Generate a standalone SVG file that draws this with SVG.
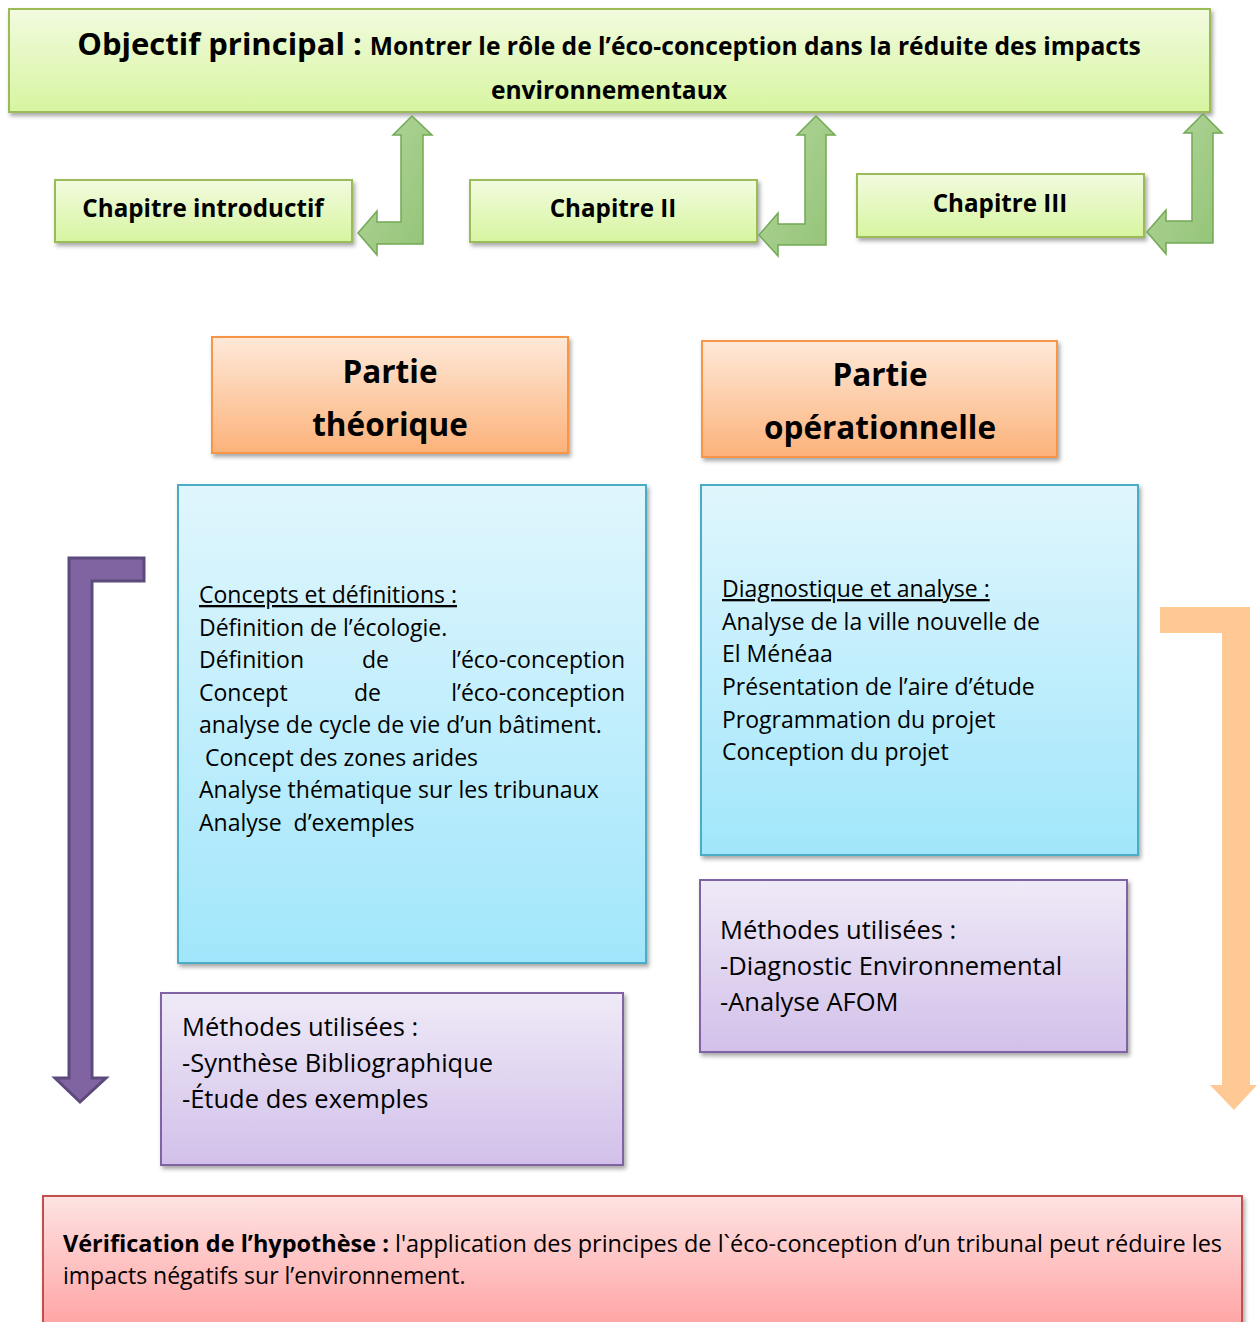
<svg xmlns="http://www.w3.org/2000/svg" width="1257" height="1322" viewBox="0 0 1257 1322">
<defs>
<linearGradient id="gGreen" x1="0" y1="0" x2="0" y2="1"><stop offset="0" stop-color="#f2fbdf"/><stop offset="1" stop-color="#d7f5a0"/></linearGradient>
<linearGradient id="gOrange" x1="0" y1="0" x2="0" y2="1"><stop offset="0" stop-color="#fee9d9"/><stop offset="1" stop-color="#fcb27a"/></linearGradient>
<linearGradient id="gCyan" x1="0" y1="0" x2="0" y2="1"><stop offset="0" stop-color="#e0f6fd"/><stop offset="1" stop-color="#a1e6fb"/></linearGradient>
<linearGradient id="gPurple" x1="0" y1="0" x2="0" y2="1"><stop offset="0" stop-color="#efeaf7"/><stop offset="1" stop-color="#d2c0ea"/></linearGradient>
<linearGradient id="gRed" x1="0" y1="0" x2="0" y2="1"><stop offset="0" stop-color="#fee3e3"/><stop offset="1" stop-color="#ffa1a1"/></linearGradient>
<linearGradient id="gArrow" x1="0" y1="0" x2="1" y2="1"><stop offset="0" stop-color="#b3d59c"/><stop offset="1" stop-color="#93c376"/></linearGradient>
<filter id="sh" x="-5%" y="-5%" width="110%" height="120%"><feDropShadow dx="2" dy="3" stdDeviation="2" flood-color="#000" flood-opacity="0.35"/></filter>
</defs>
<style>
text{font-family:"Open Sans","Noto Sans","Liberation Sans",sans-serif;fill:#000}
.b{font-weight:bold}
.green{fill:url(#gGreen);stroke:#9bbb59;stroke-width:2}
.orange{fill:url(#gOrange);stroke:#f79646;stroke-width:2}
.cyan{fill:url(#gCyan);stroke:#4bacc6;stroke-width:2}
.purple{fill:url(#gPurple);stroke:#8064a2;stroke-width:2}
.red{fill:url(#gRed);stroke:#c0504d;stroke-width:2}
.chap{font-size:24.2px;font-weight:bold;text-anchor:middle}
.partie{font-size:31.5px;font-weight:bold;text-anchor:middle}
.body{font-size:23px}
.meth{font-size:25.5px}
.garrow{fill:url(#gArrow);stroke:#71a954;stroke-width:1.5}
</style>

<g id="objectif">
<rect class="green" x="9" y="9" width="1201" height="103" filter="url(#sh)"/>
<text x="609" y="55" text-anchor="middle" class="b"><tspan font-size="31px">Objectif principal : </tspan><tspan font-size="24.6px">Montrer le rôle de l’éco-conception dans la réduite des impacts</tspan></text>
<text x="609" y="99" text-anchor="middle" class="b" font-size="24.6px">environnementaux</text>
</g>

<g id="chap-intro">
<rect class="green" x="55" y="180" width="297" height="62" filter="url(#sh)"/>
<text class="chap" x="203" y="217">Chapitre introductif</text>
</g>
<g id="chap-2">
<rect class="green" x="470" y="180" width="287" height="62" filter="url(#sh)"/>
<text class="chap" x="613" y="217">Chapitre II</text>
</g>
<g id="chap-3">
<rect class="green" x="857" y="174" width="287" height="63" filter="url(#sh)"/>
<text class="chap" x="1000" y="212">Chapitre III</text>
</g>

<g id="partie-theorique">
<rect class="orange" x="212" y="337" width="356" height="116" filter="url(#sh)"/>
<text class="partie" x="390" y="383">Partie</text>
<text class="partie" x="390" y="436">théorique</text>
</g>
<g id="partie-operationnelle">
<rect class="orange" x="702" y="341" width="355" height="116" filter="url(#sh)"/>
<text class="partie" x="880" y="386">Partie</text>
<text class="partie" x="880" y="439">opérationnelle</text>
</g>

<g id="concepts">
<rect class="cyan" x="178" y="485" width="468" height="478" filter="url(#sh)"/>
<text class="body" x="199" y="603" text-decoration="underline">Concepts et définitions :</text>
<text class="body" x="199" y="636">Définition de l’écologie.</text>
<text class="body" x="199" y="668">Définition</text>
<text class="body" x="362" y="668">de</text>
<text class="body" x="625" y="668" text-anchor="end">l’éco-conception</text>
<text class="body" x="199" y="701">Concept</text>
<text class="body" x="354" y="701">de</text>
<text class="body" x="625" y="701" text-anchor="end">l’éco-conception</text>
<text class="body" x="199" y="733">analyse de cycle de vie d’un bâtiment.</text>
<text class="body" x="205" y="766">Concept des zones arides</text>
<text class="body" x="199" y="798">Analyse thématique sur les tribunaux</text>
<text class="body" x="199" y="831" xml:space="preserve">Analyse  d’exemples</text>
</g>

<g id="diagnostique">
<rect class="cyan" x="701" y="485" width="437" height="370" filter="url(#sh)"/>
<text class="body" x="722" y="597" text-decoration="underline">Diagnostique et analyse :</text>
<text class="body" x="722" y="630">Analyse de la ville nouvelle de</text>
<text class="body" x="722" y="662">El Ménéaa</text>
<text class="body" x="722" y="695">Présentation de l’aire d’étude</text>
<text class="body" x="722" y="728">Programmation du projet</text>
<text class="body" x="722" y="760">Conception du projet</text>
</g>

<g id="methodes-op">
<rect class="purple" x="700" y="880" width="427" height="172" filter="url(#sh)"/>
<text class="meth" x="720" y="939">Méthodes utilisées :</text>
<text class="meth" x="720" y="975">-Diagnostic Environnemental</text>
<text class="meth" x="720" y="1011">-Analyse AFOM</text>
</g>

<g id="methodes-theo">
<rect class="purple" x="161" y="993" width="462" height="172" filter="url(#sh)"/>
<text class="meth" x="182" y="1036">Méthodes utilisées :</text>
<text class="meth" x="182" y="1072">-Synthèse Bibliographique</text>
<text class="meth" x="182" y="1108">-Étude des exemples</text>
</g>

<g id="verification">
<rect class="red" x="43" y="1196" width="1199" height="136" filter="url(#sh)"/>
<text class="body" x="63" y="1252" textLength="1159" lengthAdjust="spacingAndGlyphs"><tspan class="b">Vérification de l’hypothèse :</tspan> l'application des principes de l`éco-conception d’un tribunal peut réduire les</text>
<text class="body" x="63" y="1284">impacts négatifs sur l’environnement.</text>
</g>

<g id="connectors">
<path class="garrow" d="M412,116 L432,135 L423,135 L423,244 L377,244 L377,255 L358,233 L377,211 L377,222 L401,222 L401,135 L393,135 Z"/>
<path class="garrow" d="M816,116 L835,135 L826,135 L826,245 L778,245 L778,256 L759,235 L778,213 L778,224 L805,224 L805,135 L797,135 Z"/>
<path class="garrow" d="M1203,114 L1222,133 L1213,133 L1213,243 L1166,243 L1166,254 L1147,232 L1166,210 L1166,221 L1192,221 L1192,133 L1184,133 Z"/>
<path d="M144,558 L144,581 L92,581 L92,1078 L106,1078 L80,1102 L55,1078 L69,1078 L69,558 Z" fill="#8064a2" stroke="#5c4a7d" stroke-width="3"/>
<path d="M1160,607 L1250,607 L1250,1085 L1257,1085 L1234,1110 L1210,1085 L1222,1085 L1222,633 L1160,633 Z" fill="#fec995"/>
</g>
</svg>
